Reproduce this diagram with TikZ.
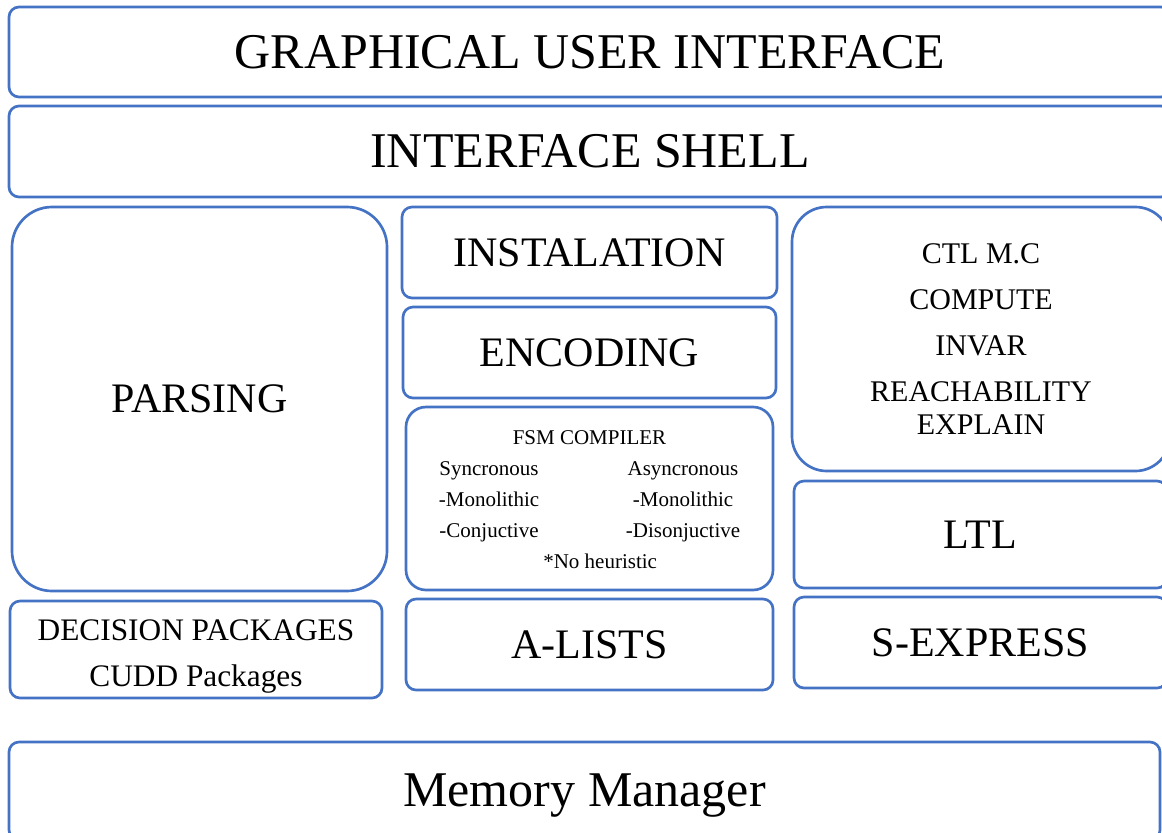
\documentclass[tikz,border=0pt]{standalone}
\usepackage{fontspec}
\setmainfont{Liberation Serif}
\usetikzlibrary{positioning}
\definecolor{layerblue}{RGB}{68,114,196}

\begin{document}
\begin{tikzpicture}[x=0.75pt, y=-0.75pt,
  layer/.style={draw=layerblue, line width=2pt, rounded corners=7.5pt, fill=white, inner sep=0pt, align=center},
  big/.style={font=\fontsize{37.5}{40}\selectfont},
  mid/.style={font=\fontsize{31.5}{34}\selectfont}]
  \path[use as bounding box, clip] (0,0) rectangle (1162,832);
  \node[layer, big, minimum width=871.5pt, minimum height=67.5pt] (gui) at (590,52) {GRAPHICAL USER INTERFACE};
  \node[layer, big, minimum width=871.5pt, minimum height=68.25pt] (shell) at (590,151.5) {INTERFACE SHELL};
  \node[layer, mid, rounded corners=30pt, minimum width=281.25pt, minimum height=288pt] (parse) at (199.5,399) {PARSING};
  \node[layer, mid, minimum width=281.25pt, minimum height=68.25pt] (inst) at (589.5,252.5) {INSTALATION};
  \node[layer, mid, minimum width=279.75pt, minimum height=68.25pt] (enc) at (589.5,352.5) {ENCODING};
  \node[layer, rounded corners=15pt, minimum width=275.25pt, minimum height=137.25pt,
        font=\fontsize{15.75}{23.25}\selectfont] (fsm) at (589.5,498.5)
    {\raisebox{-1.5pt}[\height][\depth]{\begin{tabular}{@{}c@{\hspace{65pt}}c@{}}
       \multicolumn{2}{c}{FSM COMPILER}\\
       Syncronous & Asyncronous\\
       -Monolithic & -Monolithic\\
       -Conjuctive & -Disonjuctive\\
       \multicolumn{2}{c}{\hspace{16pt}*No heuristic}
     \end{tabular}}};
  \node[layer, rounded corners=26pt, minimum width=283.5pt, minimum height=198pt,
        font=\fontsize{22.5}{24.75}\selectfont] (ctl) at (981,339)
    {CTL M.C\\[9.75pt] COMPUTE\\[9.75pt] INVAR\\[9.75pt] REACHABILITY\\ EXPLAIN};
  \node[layer, mid, minimum width=279.75pt, minimum height=80.25pt] (ltl) at (980.5,534.5) {LTL};
  \node[layer, minimum width=279pt, minimum height=72.75pt,
        font=\fontsize{23.5}{34.5}\selectfont] (dec) at (196,649.5)
    {\raisebox{-3.75pt}[\height][\depth]{\begin{tabular}{@{}c@{}}DECISION PACKAGES\\ CUDD Packages\end{tabular}}};
  \node[layer, mid, minimum width=275.25pt, minimum height=68.25pt] (alist) at (589.5,644.5) {A-LISTS};
  \node[layer, mid, minimum width=279.75pt, minimum height=68.25pt] (sexp) at (980.5,642.5) {S-EXPRESS};
  \node[layer, big, minimum width=863.25pt, minimum height=73.5pt] (mem) at (584.5,791) {\raisebox{-3.75pt}[\height][\depth]{Memory Manager}};
\end{tikzpicture}
\end{document}
